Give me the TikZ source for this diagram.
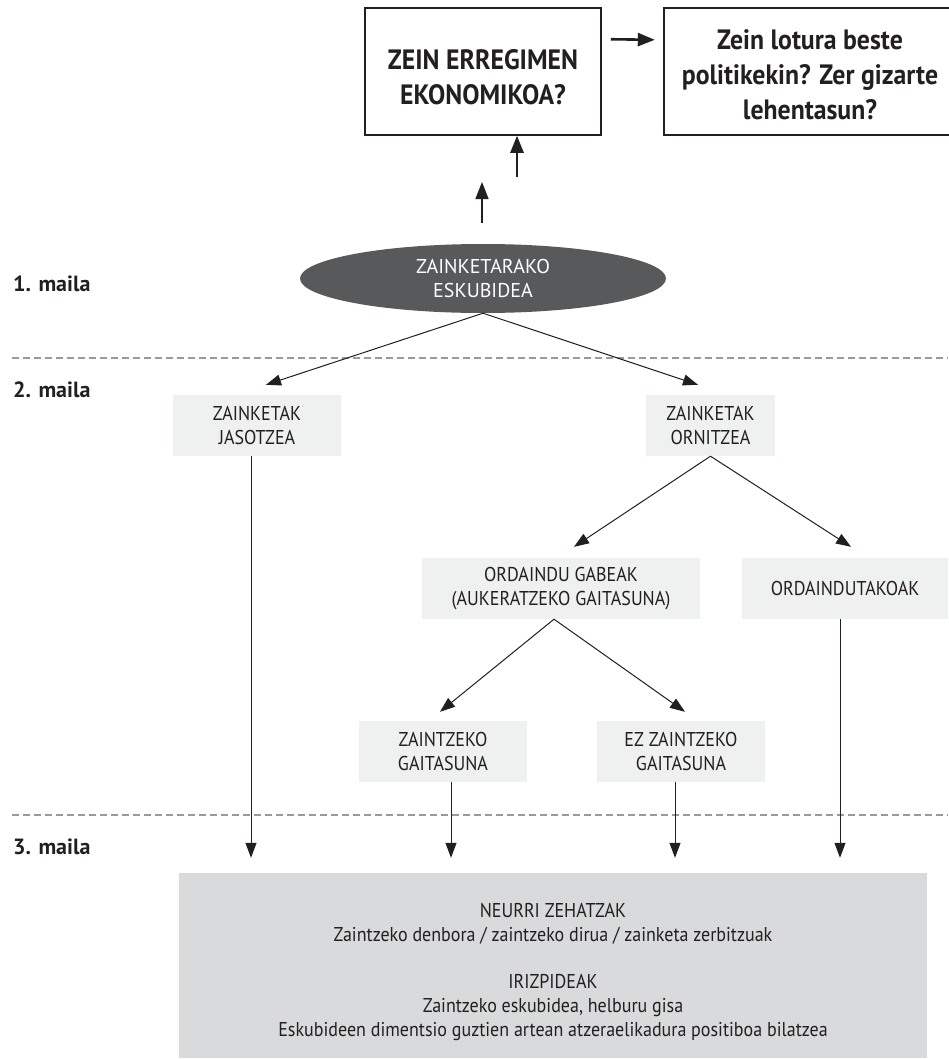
\documentclass[tikz,border=0pt]{standalone}
\usepackage{fontspec}
\setmainfont{PT Sans}[FakeStretch=0.9]
\newfontfamily\hdfont{PT Sans}[FakeStretch=0.92]
\newfontfamily\wfont{PT Sans}
\usetikzlibrary{shapes.geometric,arrows.meta,calc}
\definecolor{ink}{HTML}{231F20}
\definecolor{ellfill}{HTML}{58595B}
\definecolor{lbox}{HTML}{EFF0F0}
\definecolor{bigbox}{HTML}{D9DADB}
\definecolor{dashc}{HTML}{9A9A9A}
\begin{document}
\begin{tikzpicture}[x=1pt,y=-1pt,
  txt/.style={font=\fontsize{20}{24}\selectfont, text=ink, align=center},
  lbx/.style={txt, fill=lbox, inner sep=0pt},
  qbox/.style={font=\hdfont\bfseries\fontsize{28}{35}\selectfont, text=ink, align=center, inner sep=0pt},
  lvl/.style={font=\wfont\bfseries\fontsize{22}{24}\selectfont, text=ink, anchor=west, inner sep=0pt},
  arr/.style={draw=ink, line width=1pt, -{Triangle[length=15pt,width=11pt]}},
  thk/.style={draw=ink, line width=2.6pt, -{Triangle[length=17pt,width=13pt]}},
  thn/.style={draw=ink, line width=1.7pt, -{Triangle[length=17pt,width=13pt]}},
  dsh/.style={draw=dashc, line width=2pt, dash pattern=on 7pt off 4pt},
]
\useasboundingbox (0,0) rectangle (948,1060);
\fill[white] (0,0) rectangle (948,1060);

% top question boxes
\node[draw=ink, line width=1.5pt, minimum width=236, minimum height=127, inner sep=0pt] (b1) at (483,71.5) {};
\node[qbox] (b1t) at (483,77) {ZEIN ERREGIMEN\\EKONOMIKOA?};
\node[minimum width=292, minimum height=127, inner sep=0pt] (b2) at (810,71.5) {};
\node[qbox] (b2t) at (810,75) {Zein lotura beste\\politikekin? Zer gizarte\\lehentasun?};
\draw[ink, line width=1.5pt] (b2.north east) -- (b2.north west) -- (b2.south west) -- (b2.south east);
\draw[thk] ($(b1.north east)+(9,32)$) -- ($(b2.north west)+(-9,32)$);

\coordinate (u1) at (517,177);
\draw[thk] (u1) -- (u1 |- b1.south);
\coordinate (u2a) at (482,223);
\coordinate (u2b) at (482,182);
\draw[thn] (u2a) -- (u2b);

% level 1
\node[ellipse, fill=ellfill, minimum width=366, minimum height=69, inner sep=0pt, txt, font=\wfont\fontsize{20}{24}\selectfont, text=white] (ell) at (483,278.5) {ZAINKETARAKO\\ESKUBIDEA};
\node[lvl] (l1) at (13,284) {1. maila};
\node[lvl] (l2) at (13,390) {2. maila};
\node[lvl] (l3) at (13,847) {3. maila};

\draw[dsh] (12,358) -- (948,358);
\draw[dsh] (12,815) -- (948,815);

% boxes
\node[lbx, minimum width=168, minimum height=61] (jas) at (257,425.5) {ZAINKETAK\\JASOTZEA};
\node[lbx, minimum width=129, minimum height=61] (orn) at (710.5,425.5) {ZAINKETAK\\ORNITZEA};
\node[lbx, minimum width=278, minimum height=61] (ord) at (561,588.5) {ORDAINDU GABEAK\\(AUKERATZEKO GAITASUNA)};
\node[lbx, minimum width=206, minimum height=61] (ordt) at (845,588.5) {ORDAINDUTAKOAK};
\node[lbx, minimum width=168, minimum height=61] (zai) at (443,751.5) {ZAINTZEKO\\GAITASUNA};
\node[lbx, minimum width=168, minimum height=61] (ez) at (681,751.5) {EZ ZAINTZEKO\\GAITASUNA};
\node[fill=bigbox, minimum width=748, minimum height=185, inner sep=0pt] (meas) at (553,965.5) {};
\node[txt, inner sep=0pt] (meastxt) at (553,972) {NEURRI ZEHATZAK\\Zaintzeko denbora / zaintzeko dirua / zainketa zerbitzuak\\[23pt]IRIZPIDEAK\\Zaintzeko eskubidea, helburu gisa\\Eskubideen dimentsio guztien artean atzeraelikadura positiboa bilatzea};

% connectors
\draw[arr] (ell.south) -- ($(jas.north)+(9,-10)$);
\draw[arr] (ell.south) -- ($(orn.north)+(-12.5,-10)$);
\draw[arr, shorten >=15pt] ([xshift=-6pt]jas.south) -- ([xshift=-6pt]jas.south |- meas.north);
\draw[arr] (orn.south) -- ($(ord.north)+(13,-11)$);
\draw[arr] (orn.south) -- ($(ordt.north)+(6,-11)$);
\draw[arr] ([xshift=-7pt]ord.south) -- ($(zai.north)+(-3,-9)$);
\draw[arr] ([xshift=-7pt]ord.south) -- ($(ez.north)+(4,-9)$);
\draw[arr, shorten >=15pt] ([xshift=8pt]zai.south) -- ([xshift=8pt]zai.south |- meas.north);
\draw[arr, shorten >=15pt] ([xshift=-6pt]ez.south) -- ([xshift=-6pt]ez.south |- meas.north);
\draw[arr, shorten >=15pt] ([xshift=-5pt]ordt.south) -- ([xshift=-5pt]ordt.south |- meas.north);
\end{tikzpicture}
\end{document}
